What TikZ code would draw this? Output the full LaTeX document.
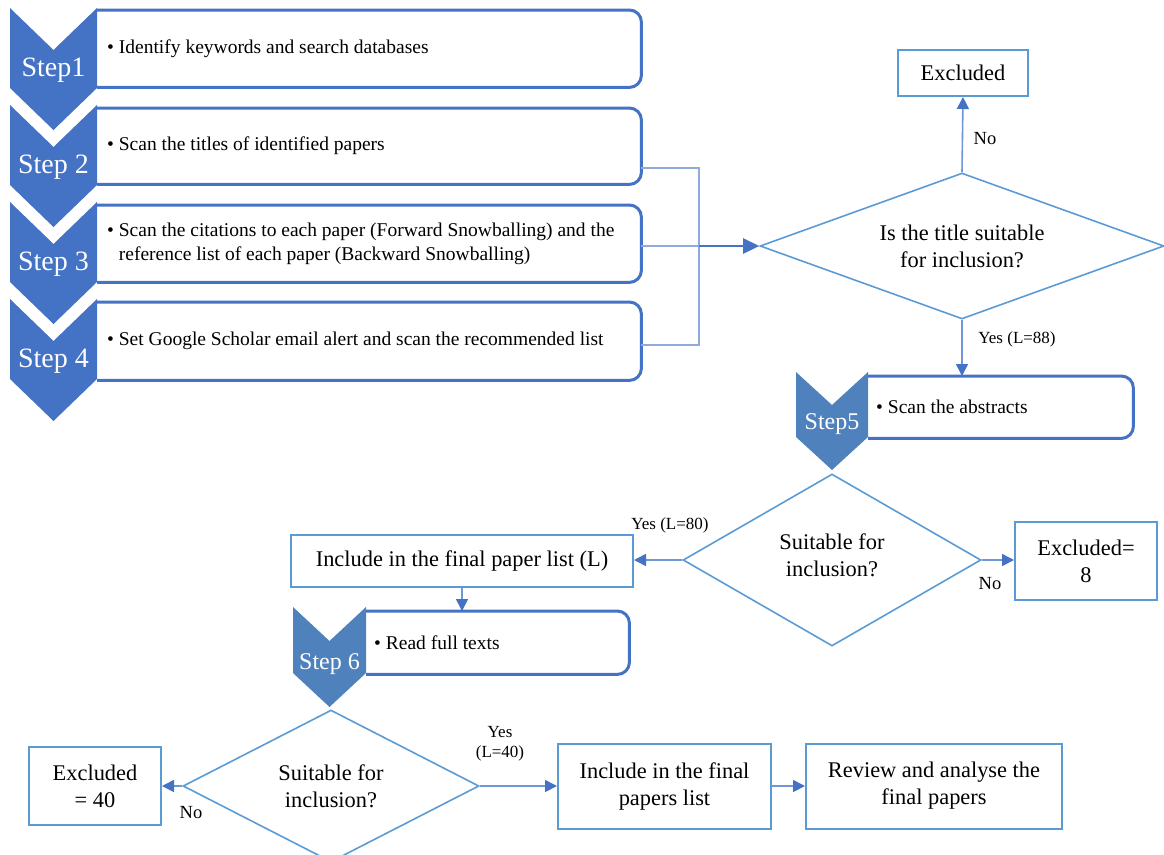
\documentclass[tikz,border=0pt]{standalone}
\usepackage{fontspec}
\setmainfont{Liberation Serif}
\usetikzlibrary{arrows.meta,calc,shapes.geometric}

\definecolor{chevA}{HTML}{4472C4}
\definecolor{chevB}{HTML}{4F81BD}
\definecolor{stepedge}{HTML}{4472C4}
\definecolor{shapeedge}{HTML}{5B9BD5}
\definecolor{arrline}{HTML}{6E96D8}
\definecolor{arrtip}{HTML}{4472C4}
\definecolor{brk}{HTML}{8FAADC}

% chevron: colour, left x, right x, top y, notch depth, body height
\newcommand{\stepchevron}[6]{%
  \fill[#1] (#2,#4) -- ({(#2+#3)/2},{#4+#5}) -- (#3,#4) -- (#3,{#4+#6})
    -- ({(#2+#3)/2},{#4+#6+#5}) -- (#2,{#4+#6}) -- cycle;}

\tikzset{
  stepbox/.style={inner sep=0pt, anchor=north west},
  stepline/.style={draw=stepedge, line width=3pt},
  steptext/.style={anchor=west, inner sep=0pt, align=left,
    font=\fontsize{19.5}{23.5}\selectfont},
  biglabel/.style={text=white, inner sep=0pt, font=\fontsize{28}{30}\selectfont},
  smalllabel/.style={text=white, inner sep=0pt, font=\fontsize{24}{26}\selectfont},
  decision/.style={diamond, draw=shapeedge, line width=1.6pt, inner sep=0pt,
    align=center, font=\fontsize{22.4}{27}\selectfont},
  plainbox/.style={rectangle, draw=shapeedge, line width=2pt, inner sep=0pt,
    align=center, font=\fontsize{22.4}{27}\selectfont},
  flow/.style={draw=arrline, line width=1.6pt,
    -{Triangle[length=12pt,width=12pt,color=arrtip]}},
  bracket/.style={draw=brk, line width=2pt},
  mainflow/.style={draw=arrtip, line width=2.6pt,
    -{Triangle[length=16pt,width=15pt]}},
  edgelabel/.style={inner sep=0pt, font=\fontsize{17}{20}\selectfont, align=center},
  nolabel/.style={inner sep=0pt, font=\fontsize{18.5}{20}\selectfont},
}

\begin{document}
\begin{tikzpicture}[x=1pt,y=-1pt]
\useasboundingbox (0,0) rectangle (1164,854);

% ---- search steps 1-4 ----
\node[stepbox, minimum width=544pt, minimum height=77pt] (b1) at (97,10) {};
\node[stepbox, minimum width=544pt, minimum height=76pt] (b2) at (97,108) {};
\node[stepbox, minimum width=544pt, minimum height=77pt] (b3) at (97,205) {};
\node[stepbox, minimum width=544pt, minimum height=78pt] (b4) at (97,302) {};
\foreach \b in {b1,b2,b3,b4}
  \draw[stepline] (\b.north west) [rounded corners=12pt] -- (\b.north east)
    -- (\b.south east) -- (\b.south west);

\stepchevron{chevA}{10}{97}{8}{42}{80}
\stepchevron{chevA}{10}{97}{105}{42}{80}
\stepchevron{chevA}{10}{97}{202}{42}{80}
\stepchevron{chevA}{10}{97}{299}{42}{80}

\node[biglabel] (s1) at (53.5,70) {Step1};
\node[biglabel] (s2) at (53.5,167) {Step 2};
\node[biglabel] (s3) at (53.5,264) {Step 3};
\node[biglabel] (s4) at (53.5,361) {Step 4};

\node[steptext] (t1) at ($(b1.west)+(10,0)$) {• Identify keywords and search databases};
\node[steptext] (t2) at ($(b2.west)+(10,0)$) {• Scan the titles of identified papers};
\node[steptext] (t3) at ($(b3.west)+(10,0)$) {• Scan the citations to each paper (Forward Snowballing) and the\\\hphantom{• }reference list of each paper (Backward Snowballing)};
\node[steptext] (t4) at ($(b4.west)+(10,0)$) {• Set Google Scholar email alert and scan the recommended list};

% ---- title screening ----
\node[decision, shape aspect=2.77, minimum width=404pt, minimum height=146pt] (d1) at (962,246)
  {Is the title suitable\\for inclusion?};
\node[plainbox, minimum width=130pt, minimum height=46pt] (x1) at (963,73) {Excluded};

\coordinate (jtop) at (699,168);
\coordinate (jbot) at (699,345);
\coordinate (jn) at (699,246);
\draw[bracket] (b2.east |- jtop) -- (jtop) -- (jbot) -- (b4.east |- jbot);
\draw[bracket] (b3.east |- jn) -- (jn);
\draw[mainflow] (jn) -- (jn -| d1.west);

\draw[flow] (d1.north) -- (x1.south);
\node[nolabel] (no1) at (985,139) {No};

% ---- step 5 ----
\node[stepbox, minimum width=265pt, minimum height=62pt] (b5) at (868,376) {};
\draw[stepline] (b5.north west) [rounded corners=12pt] -- (b5.north east)
  -- (b5.south east) -- (b5.south west);
\stepchevron{chevB}{796}{868}{372}{33}{65}
\node[smalllabel] (s5) at (832,424) {Step5};
\node[steptext] (t5) at ($(b5.west)+(8,0)$) {• Scan the abstracts};

\draw[flow] (d1.south) -- (d1.south |- b5.north);
\node[edgelabel] (yes1) at (1017,339) {Yes (L=88)};

% ---- abstract screening ----
\node[decision, shape aspect=1.73, minimum width=298pt, minimum height=172pt] (d2) at (832,560) {};
\node[inner sep=0pt, align=center, font=\fontsize{22.4}{27}\selectfont] (q2) at (832,555)
  {Suitable for\\inclusion?};
\node[plainbox, minimum width=142pt, minimum height=78pt] (x8) at (1086,561) {Excluded=\\8};
\node[plainbox, minimum width=342pt, minimum height=52pt] (incl) at (462,561)
  {Include in the final paper list (L)};

\draw[flow] (d2.east) -- (d2.east -| x8.west);
\node[nolabel] (no2) at (990,584) {No};
\draw[flow] (d2.west) -- (d2.west -| incl.east);
\node[edgelabel] (yes2) at (670,525) {Yes (L=80)};

% ---- step 6 ----
\node[stepbox, minimum width=263pt, minimum height=63pt] (b6) at (366,611) {};
\draw[stepline] (b6.north west) [rounded corners=12pt] -- (b6.north east)
  -- (b6.south east) -- (b6.south west);
\stepchevron{chevB}{293}{366}{607}{34}{66}
\node[smalllabel] (s6) at (329.5,664) {Step 6};
\node[steptext] (t6) at ($(b6.west)+(8,0)$) {• Read full texts};

\draw[flow] (incl.south) -- (incl.south |- b6.north);

% ---- full-text screening ----
\node[decision, shape aspect=1.95, minimum width=296pt, minimum height=152pt] (d3) at (331,786)
  {Suitable for\\inclusion?};
\node[plainbox, minimum width=132pt, minimum height=78pt] (x40) at (95,786) {Excluded\\= 40};
\node[plainbox, minimum width=213pt, minimum height=85pt] (incl2) at (664.5,786)
  {Include in the final\\papers list};
\node[plainbox, minimum width=256pt, minimum height=85pt] (rev) at (934,786)
  {Review and analyse the\\final papers};

\draw[flow] (d3.west) -- (d3.west -| x40.east);
\node[nolabel] (no3) at (191,813) {No};
\draw[flow] (d3.east) -- (d3.east -| incl2.west);
\node[edgelabel] (yes3) at (500,744) {Yes\\(L=40)};
\draw[flow] (incl2.east) -- (rev.west);

\end{tikzpicture}
\end{document}
